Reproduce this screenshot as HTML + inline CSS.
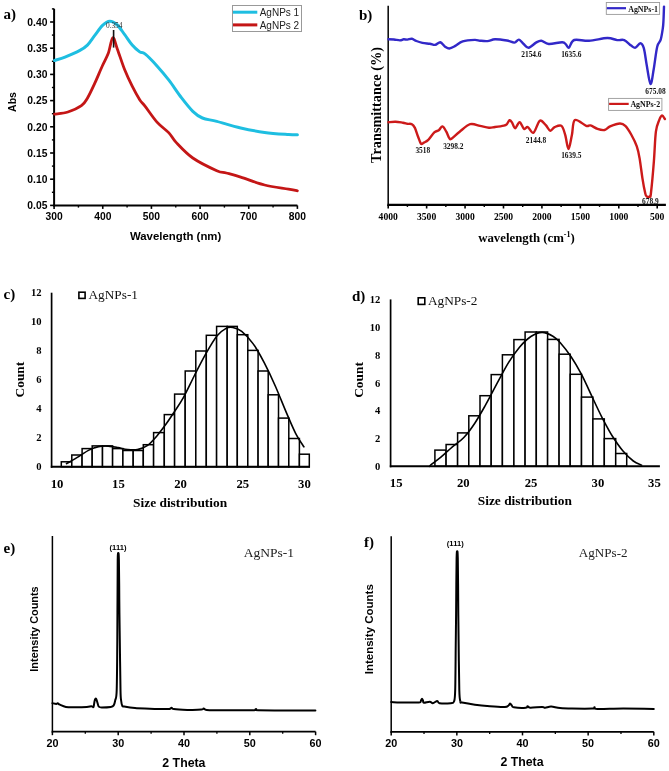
<!DOCTYPE html>
<html><head><meta charset="utf-8"><style>
html,body{margin:0;padding:0;background:#fff;}
svg{display:block;will-change:transform;}
</style></head><body>
<svg width="669" height="771" viewBox="0 0 669 771">
<rect x="0" y="0" width="669" height="771" fill="#fff"/>
<text x="3.6" y="18.6" font-family='"Liberation Serif", serif' font-size="15.00" font-weight="bold" text-anchor="start" fill="#000" >a)</text>
<line x1="54.10" y1="8.70" x2="54.10" y2="206.40" stroke="#000" stroke-width="2.00"/>
<line x1="53.10" y1="205.40" x2="297.40" y2="205.40" stroke="#000" stroke-width="2.00"/>
<line x1="50.10" y1="205.40" x2="54.10" y2="205.40" stroke="#000" stroke-width="1.60"/>
<text x="47.4" y="209.1" font-family='"Liberation Sans", sans-serif' font-size="10.30" font-weight="bold" text-anchor="end" fill="#000" >0.05</text>
<line x1="50.10" y1="179.20" x2="54.10" y2="179.20" stroke="#000" stroke-width="1.60"/>
<text x="47.4" y="182.9" font-family='"Liberation Sans", sans-serif' font-size="10.30" font-weight="bold" text-anchor="end" fill="#000" >0.10</text>
<line x1="50.10" y1="153.00" x2="54.10" y2="153.00" stroke="#000" stroke-width="1.60"/>
<text x="47.4" y="156.7" font-family='"Liberation Sans", sans-serif' font-size="10.30" font-weight="bold" text-anchor="end" fill="#000" >0.15</text>
<line x1="50.10" y1="126.80" x2="54.10" y2="126.80" stroke="#000" stroke-width="1.60"/>
<text x="47.4" y="130.5" font-family='"Liberation Sans", sans-serif' font-size="10.30" font-weight="bold" text-anchor="end" fill="#000" >0.20</text>
<line x1="50.10" y1="100.60" x2="54.10" y2="100.60" stroke="#000" stroke-width="1.60"/>
<text x="47.4" y="104.3" font-family='"Liberation Sans", sans-serif' font-size="10.30" font-weight="bold" text-anchor="end" fill="#000" >0.25</text>
<line x1="50.10" y1="74.40" x2="54.10" y2="74.40" stroke="#000" stroke-width="1.60"/>
<text x="47.4" y="78.1" font-family='"Liberation Sans", sans-serif' font-size="10.30" font-weight="bold" text-anchor="end" fill="#000" >0.30</text>
<line x1="50.10" y1="48.20" x2="54.10" y2="48.20" stroke="#000" stroke-width="1.60"/>
<text x="47.4" y="51.9" font-family='"Liberation Sans", sans-serif' font-size="10.30" font-weight="bold" text-anchor="end" fill="#000" >0.35</text>
<line x1="50.10" y1="22.00" x2="54.10" y2="22.00" stroke="#000" stroke-width="1.60"/>
<text x="47.4" y="25.7" font-family='"Liberation Sans", sans-serif' font-size="10.30" font-weight="bold" text-anchor="end" fill="#000" >0.40</text>
<line x1="51.90" y1="192.30" x2="54.10" y2="192.30" stroke="#000" stroke-width="1.40"/>
<line x1="51.90" y1="166.10" x2="54.10" y2="166.10" stroke="#000" stroke-width="1.40"/>
<line x1="51.90" y1="139.90" x2="54.10" y2="139.90" stroke="#000" stroke-width="1.40"/>
<line x1="51.90" y1="113.70" x2="54.10" y2="113.70" stroke="#000" stroke-width="1.40"/>
<line x1="51.90" y1="87.50" x2="54.10" y2="87.50" stroke="#000" stroke-width="1.40"/>
<line x1="51.90" y1="61.30" x2="54.10" y2="61.30" stroke="#000" stroke-width="1.40"/>
<line x1="51.90" y1="35.10" x2="54.10" y2="35.10" stroke="#000" stroke-width="1.40"/>
<line x1="51.90" y1="8.90" x2="54.10" y2="8.90" stroke="#000" stroke-width="1.40"/>
<line x1="54.10" y1="205.40" x2="54.10" y2="208.90" stroke="#000" stroke-width="1.60"/>
<text x="54.1" y="219.8" font-family='"Liberation Sans", sans-serif' font-size="10.30" font-weight="bold" text-anchor="middle" fill="#000" >300</text>
<line x1="102.76" y1="205.40" x2="102.76" y2="208.90" stroke="#000" stroke-width="1.60"/>
<text x="102.8" y="219.8" font-family='"Liberation Sans", sans-serif' font-size="10.30" font-weight="bold" text-anchor="middle" fill="#000" >400</text>
<line x1="151.42" y1="205.40" x2="151.42" y2="208.90" stroke="#000" stroke-width="1.60"/>
<text x="151.4" y="219.8" font-family='"Liberation Sans", sans-serif' font-size="10.30" font-weight="bold" text-anchor="middle" fill="#000" >500</text>
<line x1="200.08" y1="205.40" x2="200.08" y2="208.90" stroke="#000" stroke-width="1.60"/>
<text x="200.1" y="219.8" font-family='"Liberation Sans", sans-serif' font-size="10.30" font-weight="bold" text-anchor="middle" fill="#000" >600</text>
<line x1="248.74" y1="205.40" x2="248.74" y2="208.90" stroke="#000" stroke-width="1.60"/>
<text x="248.7" y="219.8" font-family='"Liberation Sans", sans-serif' font-size="10.30" font-weight="bold" text-anchor="middle" fill="#000" >700</text>
<line x1="297.40" y1="205.40" x2="297.40" y2="208.90" stroke="#000" stroke-width="1.60"/>
<text x="297.4" y="219.8" font-family='"Liberation Sans", sans-serif' font-size="10.30" font-weight="bold" text-anchor="middle" fill="#000" >800</text>
<line x1="78.43" y1="205.40" x2="78.43" y2="207.60" stroke="#000" stroke-width="1.40"/>
<line x1="127.09" y1="205.40" x2="127.09" y2="207.60" stroke="#000" stroke-width="1.40"/>
<line x1="175.75" y1="205.40" x2="175.75" y2="207.60" stroke="#000" stroke-width="1.40"/>
<line x1="224.41" y1="205.40" x2="224.41" y2="207.60" stroke="#000" stroke-width="1.40"/>
<line x1="273.07" y1="205.40" x2="273.07" y2="207.60" stroke="#000" stroke-width="1.40"/>
<text x="175.6" y="240.2" font-family='"Liberation Sans", sans-serif' font-size="11.40" font-weight="bold" text-anchor="middle" fill="#000" >Wavelength (nm)</text>
<text x="0" y="0" transform="translate(15.9,102.0) rotate(-90)" font-family='"Liberation Sans", sans-serif' font-size="10.50" font-weight="bold" text-anchor="middle" fill="#000">Abs</text>
<path d="M54.5,60.5 C56.2,59.9 60.8,58.8 65.0,57.1 C69.2,55.4 76.2,52.4 79.9,50.4 C83.6,48.4 84.9,47.6 87.4,45.1 C89.9,42.6 92.3,38.6 94.8,35.4 C97.3,32.2 99.8,28.1 102.3,25.7 C104.8,23.3 107.3,21.3 109.8,21.2 C112.3,21.1 114.8,22.8 117.3,25.0 C119.8,27.2 122.2,31.4 124.7,34.7 C127.2,38.1 129.7,42.2 132.2,45.1 C134.7,48.0 137.6,50.4 139.7,51.9 C141.8,53.4 142.1,51.6 145.0,53.9 C147.9,56.2 153.0,61.5 157.0,65.9 C161.0,70.3 164.9,75.0 168.9,80.2 C172.9,85.4 176.9,91.8 180.9,97.0 C184.9,102.2 189.2,107.8 192.8,111.3 C196.4,114.8 198.4,116.3 202.4,118.0 C206.4,119.7 210.4,119.7 216.8,121.4 C223.2,123.1 232.7,126.2 240.7,128.0 C248.7,129.8 256.6,131.3 264.6,132.4 C272.6,133.5 283.0,134.1 288.5,134.5 C294.0,134.9 295.9,134.8 297.4,134.8" fill="none" stroke="#1EBEE1" stroke-width="3.00" stroke-linejoin="round" stroke-linecap="round" />
<path d="M54.5,114.2 C56.7,113.8 63.4,113.4 67.9,112.0 C72.4,110.6 78.2,108.0 81.4,105.7 C84.7,103.4 85.2,102.0 87.4,98.2 C89.6,94.5 92.3,88.6 94.8,83.2 C97.3,77.8 100.0,71.0 102.3,66.0 C104.5,61.0 106.5,58.0 108.3,53.3 C110.0,48.6 111.3,38.4 112.8,37.7 C114.3,37.0 115.3,43.5 117.3,48.9 C119.3,54.2 122.2,63.6 124.7,69.8 C127.2,76.0 129.7,81.2 132.2,86.2 C134.7,91.2 137.6,96.4 139.7,99.7 C141.8,103.0 142.1,102.4 145.0,106.1 C147.9,109.8 153.0,117.6 157.0,122.1 C161.0,126.6 165.7,129.5 168.9,132.9 C172.1,136.3 172.1,138.2 176.1,142.4 C180.1,146.6 186.0,153.3 192.8,158.0 C199.6,162.7 211.2,168.2 216.8,170.7 C222.4,173.2 222.3,171.9 226.3,173.0 C230.3,174.1 234.3,175.1 240.7,177.1 C247.1,179.1 256.6,183.0 264.6,185.0 C272.6,187.0 283.0,188.1 288.5,189.1 C294.0,190.1 295.9,190.5 297.4,190.8" fill="none" stroke="#C41616" stroke-width="2.80" stroke-linejoin="round" stroke-linecap="round" />
<line x1="113.60" y1="30.00" x2="113.60" y2="47.60" stroke="#111" stroke-width="1.60"/>
<text x="114.2" y="27.9" font-family='"Liberation Serif", serif' font-size="7.40" font-weight="normal" text-anchor="middle" fill="#333" >0.354</text>
<rect x="232.5" y="5.5" width="69" height="26" fill="#fff" stroke="#999" stroke-width="1"/>
<line x1="233.00" y1="12.20" x2="257.30" y2="12.20" stroke="#1EBEE1" stroke-width="3.00"/>
<line x1="233.00" y1="24.90" x2="257.30" y2="24.90" stroke="#C41616" stroke-width="3.00"/>
<text x="259.7" y="15.9" font-family='"Liberation Sans", sans-serif' font-size="10.00" font-weight="normal" text-anchor="start" fill="#222" >AgNPs 1</text>
<text x="259.7" y="28.5" font-family='"Liberation Sans", sans-serif' font-size="10.00" font-weight="normal" text-anchor="start" fill="#222" >AgNPs 2</text>
<text x="359.0" y="19.5" font-family='"Liberation Serif", serif' font-size="15.00" font-weight="bold" text-anchor="start" fill="#000" >b)</text>
<line x1="388.20" y1="5.70" x2="388.20" y2="205.90" stroke="#111" stroke-width="1.60"/>
<line x1="387.40" y1="204.90" x2="665.90" y2="204.90" stroke="#000" stroke-width="2.20"/>
<line x1="388.20" y1="204.90" x2="388.20" y2="208.50" stroke="#000" stroke-width="1.60"/>
<text x="388.2" y="219.9" font-family='"Liberation Serif", serif' font-size="9.60" font-weight="bold" text-anchor="middle" fill="#000" >4000</text>
<line x1="426.63" y1="204.90" x2="426.63" y2="208.50" stroke="#000" stroke-width="1.60"/>
<text x="426.6" y="219.9" font-family='"Liberation Serif", serif' font-size="9.60" font-weight="bold" text-anchor="middle" fill="#000" >3500</text>
<line x1="465.06" y1="204.90" x2="465.06" y2="208.50" stroke="#000" stroke-width="1.60"/>
<text x="465.1" y="219.9" font-family='"Liberation Serif", serif' font-size="9.60" font-weight="bold" text-anchor="middle" fill="#000" >3000</text>
<line x1="503.49" y1="204.90" x2="503.49" y2="208.50" stroke="#000" stroke-width="1.60"/>
<text x="503.5" y="219.9" font-family='"Liberation Serif", serif' font-size="9.60" font-weight="bold" text-anchor="middle" fill="#000" >2500</text>
<line x1="541.92" y1="204.90" x2="541.92" y2="208.50" stroke="#000" stroke-width="1.60"/>
<text x="541.9" y="219.9" font-family='"Liberation Serif", serif' font-size="9.60" font-weight="bold" text-anchor="middle" fill="#000" >2000</text>
<line x1="580.35" y1="204.90" x2="580.35" y2="208.50" stroke="#000" stroke-width="1.60"/>
<text x="580.4" y="219.9" font-family='"Liberation Serif", serif' font-size="9.60" font-weight="bold" text-anchor="middle" fill="#000" >1500</text>
<line x1="618.78" y1="204.90" x2="618.78" y2="208.50" stroke="#000" stroke-width="1.60"/>
<text x="618.8" y="219.9" font-family='"Liberation Serif", serif' font-size="9.60" font-weight="bold" text-anchor="middle" fill="#000" >1000</text>
<line x1="657.21" y1="204.90" x2="657.21" y2="208.50" stroke="#000" stroke-width="1.60"/>
<text x="657.2" y="219.9" font-family='"Liberation Serif", serif' font-size="9.60" font-weight="bold" text-anchor="middle" fill="#000" >500</text>
<line x1="407.41" y1="204.90" x2="407.41" y2="206.90" stroke="#000" stroke-width="1.40"/>
<line x1="445.84" y1="204.90" x2="445.84" y2="206.90" stroke="#000" stroke-width="1.40"/>
<line x1="484.27" y1="204.90" x2="484.27" y2="206.90" stroke="#000" stroke-width="1.40"/>
<line x1="522.70" y1="204.90" x2="522.70" y2="206.90" stroke="#000" stroke-width="1.40"/>
<line x1="561.13" y1="204.90" x2="561.13" y2="206.90" stroke="#000" stroke-width="1.40"/>
<line x1="599.57" y1="204.90" x2="599.57" y2="206.90" stroke="#000" stroke-width="1.40"/>
<line x1="638.00" y1="204.90" x2="638.00" y2="206.90" stroke="#000" stroke-width="1.40"/>
<text x="526.5" y="241.5" font-family='"Liberation Serif", serif' font-size="12.80" font-weight="bold" text-anchor="middle" fill="#000" >wavelength (cm<tspan dy="-4.5" font-size="8">-1</tspan><tspan dy="4.5">)</tspan></text>
<text x="0" y="0" transform="translate(380.6,105.0) rotate(-90)" font-family='"Liberation Serif", serif' font-size="14.30" font-weight="bold" text-anchor="middle" fill="#000">Transmittance (%)</text>
<path d="M388.5,39.2 C389.4,39.2 392.1,39.3 394.0,39.5 C395.9,39.7 398.4,40.4 400.0,40.4 C401.6,40.4 402.5,39.4 403.7,39.3 C404.9,39.2 406.0,39.7 407.4,39.6 C408.8,39.5 410.4,38.6 411.9,38.8 C413.4,39.0 414.6,40.3 416.4,41.0 C418.1,41.7 420.2,42.4 422.4,42.9 C424.6,43.4 427.7,43.4 429.8,43.7 C431.9,44.0 433.4,45.1 435.1,44.9 C436.9,44.6 438.7,42.0 440.3,42.2 C441.9,42.5 443.3,45.4 444.8,46.4 C446.3,47.4 447.6,48.6 449.3,48.5 C451.1,48.4 453.1,47.1 455.3,45.9 C457.5,44.7 459.5,42.4 462.7,41.4 C465.9,40.4 471.8,40.0 474.7,39.9 C477.6,39.8 477.9,40.5 480.0,40.7 C482.1,40.9 485.0,41.3 487.5,41.1 C490.0,40.9 491.8,39.4 495.0,39.3 C498.2,39.2 503.7,40.0 506.9,40.5 C510.1,41.0 512.4,42.8 514.4,42.6 C516.4,42.5 517.4,39.4 518.9,39.6 C520.4,39.8 521.7,42.4 523.3,43.7 C524.9,45.1 526.5,47.9 528.6,47.7 C530.7,47.5 533.9,43.8 536.0,42.6 C538.1,41.4 539.2,40.5 541.3,40.7 C543.4,40.9 545.3,43.8 548.8,44.0 C552.3,44.2 559.4,42.1 562.2,42.2 C565.1,42.3 564.8,43.5 565.9,44.4 C567.0,45.3 567.5,48.4 568.9,47.7 C570.3,47.0 570.9,41.1 574.2,40.0 C577.6,38.9 583.5,41.1 589.0,40.8 C594.5,40.5 602.6,38.1 607.3,38.0 C612.0,37.9 614.4,39.8 617.2,40.1 C620.0,40.5 621.9,39.2 624.2,40.1 C626.5,41.0 629.3,44.3 631.2,45.6 C633.1,46.9 633.9,48.1 635.4,47.7 C636.9,47.3 638.9,43.1 640.3,43.2 C641.7,43.3 642.7,44.5 643.8,48.1 C644.9,51.7 645.6,59.0 646.7,65.0 C647.8,71.0 649.3,83.2 650.5,83.9 C651.7,84.6 652.6,75.4 653.7,69.2 C654.8,63.0 656.0,51.6 657.2,46.7 C658.4,41.8 659.8,42.8 660.7,39.7 C661.6,36.7 662.3,31.7 662.8,28.4 C663.3,25.1 663.3,23.6 663.5,20.0 C663.7,16.4 663.9,8.8 664.0,6.6" fill="none" stroke="#3228C8" stroke-width="2.40" stroke-linejoin="round" stroke-linecap="round" />
<path d="M388.5,122.3 C389.7,122.2 393.1,121.6 395.5,121.7 C397.9,121.8 400.9,122.4 402.9,122.7 C404.9,123.0 405.9,123.5 407.4,123.8 C408.9,124.0 410.6,123.5 411.9,124.2 C413.1,124.9 413.9,125.9 414.9,127.9 C415.9,129.9 416.9,133.6 417.9,136.2 C418.9,138.8 419.9,142.5 420.9,143.6 C421.9,144.7 422.7,143.2 423.9,142.6 C425.1,142.0 426.6,141.6 428.3,139.9 C430.0,138.2 432.6,134.0 434.3,132.4 C436.1,130.8 437.4,131.2 438.8,130.2 C440.2,129.2 441.2,126.2 442.5,126.4 C443.8,126.7 445.2,129.8 446.3,131.7 C447.4,133.6 448.4,136.9 449.3,138.1 C450.2,139.3 449.8,139.8 451.5,138.7 C453.2,137.6 456.6,134.1 459.7,131.7 C462.8,129.3 466.8,125.2 470.2,124.2 C473.6,123.2 476.9,125.3 480.0,125.9 C483.1,126.5 486.5,127.5 489.0,127.7 C491.5,127.9 492.5,127.3 495.0,127.0 C497.5,126.7 501.9,126.1 503.9,125.6 C505.9,125.1 505.9,125.0 506.9,124.1 C507.8,123.2 508.7,120.5 509.6,120.2 C510.5,120.0 511.2,121.3 512.1,122.6 C513.0,123.9 513.9,128.3 515.1,128.2 C516.4,128.1 518.1,122.1 519.6,122.2 C521.1,122.3 522.7,128.1 524.1,128.9 C525.5,129.7 526.2,126.5 527.8,127.1 C529.4,127.7 531.5,133.8 533.5,132.7 C535.5,131.6 537.8,122.0 539.8,120.7 C541.8,119.5 544.0,123.5 545.8,125.2 C547.5,126.9 548.8,130.4 550.3,130.7 C551.8,131.0 552.8,127.9 554.7,127.1 C556.6,126.3 559.8,124.6 561.5,125.9 C563.2,127.2 564.0,131.0 565.2,134.9 C566.4,138.8 567.4,149.1 568.5,149.1 C569.6,149.1 570.8,139.8 571.9,134.9 C573.0,130.1 572.5,121.5 574.9,120.0 C577.3,118.5 583.6,124.9 586.2,125.8 C588.8,126.7 588.6,124.9 590.5,125.4 C592.4,125.9 595.2,128.1 597.5,128.9 C599.8,129.7 602.4,130.4 604.5,130.0 C606.6,129.6 607.5,127.5 610.1,126.4 C612.7,125.3 617.4,123.5 620.0,123.5 C622.6,123.5 623.7,124.3 625.6,126.1 C627.5,127.9 629.3,131.1 631.2,134.5 C633.1,137.9 635.4,142.4 636.8,146.4 C638.2,150.4 638.7,153.1 639.6,158.4 C640.5,163.7 641.5,172.2 642.4,178.1 C643.3,183.9 644.6,190.5 645.3,193.5 C646.0,196.5 646.1,195.6 646.6,196.2 C647.1,196.8 647.6,197.2 648.1,197.2 C648.6,197.2 649.1,196.8 649.6,196.2 C650.1,195.6 650.2,199.3 650.9,193.5 C651.6,187.7 653.1,171.5 653.9,161.2 C654.7,150.9 655.0,138.6 655.9,131.7 C656.8,124.8 658.3,122.5 659.3,119.8 C660.3,117.1 661.2,115.6 662.1,115.5 C663.0,115.4 664.4,118.4 664.9,119.0" fill="none" stroke="#CC1A1A" stroke-width="2.40" stroke-linejoin="round" stroke-linecap="round" />
<text x="531.4" y="57.1" font-family='"Liberation Serif", serif' font-size="7.40" font-weight="bold" text-anchor="middle" fill="#111" >2154.6</text>
<text x="571.3" y="57.1" font-family='"Liberation Serif", serif' font-size="7.40" font-weight="bold" text-anchor="middle" fill="#111" >1635.6</text>
<text x="655.5" y="93.8" font-family='"Liberation Serif", serif' font-size="7.40" font-weight="bold" text-anchor="middle" fill="#111" >675.08</text>
<text x="422.8" y="153.3" font-family='"Liberation Serif", serif' font-size="7.40" font-weight="bold" text-anchor="middle" fill="#111" >3518</text>
<text x="453.3" y="149.2" font-family='"Liberation Serif", serif' font-size="7.40" font-weight="bold" text-anchor="middle" fill="#111" >3298.2</text>
<text x="536.0" y="142.7" font-family='"Liberation Serif", serif' font-size="7.40" font-weight="bold" text-anchor="middle" fill="#111" >2144.8</text>
<text x="571.3" y="158.1" font-family='"Liberation Serif", serif' font-size="7.40" font-weight="bold" text-anchor="middle" fill="#111" >1639.5</text>
<text x="650.4" y="203.9" font-family='"Liberation Serif", serif' font-size="7.40" font-weight="bold" text-anchor="middle" fill="#111" >678.9</text>
<rect x="606.3" y="2.5" width="53.3" height="11.9" fill="#fff" stroke="#999" stroke-width="0.9"/>
<line x1="606.80" y1="8.20" x2="626.00" y2="8.20" stroke="#3228C8" stroke-width="2.20"/>
<text x="628.2" y="11.7" font-family='"Liberation Serif", serif' font-size="7.90" font-weight="bold" text-anchor="start" fill="#111" >AgNPs-1</text>
<rect x="608.6" y="98.4" width="53.3" height="12" fill="#fff" stroke="#999" stroke-width="0.9"/>
<line x1="609.10" y1="103.90" x2="628.70" y2="103.90" stroke="#CC1A1A" stroke-width="2.20"/>
<text x="630.4" y="107.2" font-family='"Liberation Serif", serif' font-size="7.90" font-weight="bold" text-anchor="start" fill="#111" >AgNPs-2</text>
<text x="3.5" y="298.5" font-family='"Liberation Serif", serif' font-size="15.00" font-weight="bold" text-anchor="start" fill="#000" >c)</text>
<line x1="51.60" y1="292.70" x2="51.60" y2="467.80" stroke="#000" stroke-width="1.70"/>
<text x="41.6" y="470.4" font-family='"Liberation Serif", serif' font-size="10.60" font-weight="bold" text-anchor="end" fill="#000" >0</text>
<text x="41.6" y="441.3" font-family='"Liberation Serif", serif' font-size="10.60" font-weight="bold" text-anchor="end" fill="#000" >2</text>
<text x="41.6" y="412.2" font-family='"Liberation Serif", serif' font-size="10.60" font-weight="bold" text-anchor="end" fill="#000" >4</text>
<text x="41.6" y="383.1" font-family='"Liberation Serif", serif' font-size="10.60" font-weight="bold" text-anchor="end" fill="#000" >6</text>
<text x="41.6" y="354.0" font-family='"Liberation Serif", serif' font-size="10.60" font-weight="bold" text-anchor="end" fill="#000" >8</text>
<text x="41.6" y="324.9" font-family='"Liberation Serif", serif' font-size="10.60" font-weight="bold" text-anchor="end" fill="#000" >10</text>
<text x="41.6" y="295.8" font-family='"Liberation Serif", serif' font-size="10.60" font-weight="bold" text-anchor="end" fill="#000" >12</text>
<rect x="61.3" y="461.8" width="10.5" height="5.0" fill="#fff" stroke="#000" stroke-width="1.5"/>
<rect x="71.8" y="455.0" width="10.3" height="11.8" fill="#fff" stroke="#000" stroke-width="1.5"/>
<rect x="82.1" y="448.6" width="10.1" height="18.2" fill="#fff" stroke="#000" stroke-width="1.5"/>
<rect x="92.2" y="445.9" width="10.3" height="20.9" fill="#fff" stroke="#000" stroke-width="1.5"/>
<rect x="102.5" y="445.9" width="10.1" height="20.9" fill="#fff" stroke="#000" stroke-width="1.5"/>
<rect x="112.6" y="448.6" width="10.3" height="18.2" fill="#fff" stroke="#000" stroke-width="1.5"/>
<rect x="122.9" y="450.5" width="10.3" height="16.3" fill="#fff" stroke="#000" stroke-width="1.5"/>
<rect x="133.2" y="450.5" width="10.1" height="16.3" fill="#fff" stroke="#000" stroke-width="1.5"/>
<rect x="143.3" y="444.7" width="10.3" height="22.1" fill="#fff" stroke="#000" stroke-width="1.5"/>
<rect x="153.6" y="432.6" width="10.7" height="34.2" fill="#fff" stroke="#000" stroke-width="1.5"/>
<rect x="164.3" y="414.6" width="10.3" height="52.2" fill="#fff" stroke="#000" stroke-width="1.5"/>
<rect x="174.6" y="394.1" width="10.6" height="72.7" fill="#fff" stroke="#000" stroke-width="1.5"/>
<rect x="185.2" y="371.0" width="10.6" height="95.8" fill="#fff" stroke="#000" stroke-width="1.5"/>
<rect x="195.8" y="351.0" width="10.5" height="115.8" fill="#fff" stroke="#000" stroke-width="1.5"/>
<rect x="206.3" y="335.3" width="10.3" height="131.5" fill="#fff" stroke="#000" stroke-width="1.5"/>
<rect x="216.6" y="326.4" width="10.6" height="140.4" fill="#fff" stroke="#000" stroke-width="1.5"/>
<rect x="227.2" y="326.4" width="10.1" height="140.4" fill="#fff" stroke="#000" stroke-width="1.5"/>
<rect x="237.3" y="334.7" width="10.5" height="132.1" fill="#fff" stroke="#000" stroke-width="1.5"/>
<rect x="247.8" y="350.4" width="10.3" height="116.4" fill="#fff" stroke="#000" stroke-width="1.5"/>
<rect x="258.1" y="371.0" width="10.1" height="95.8" fill="#fff" stroke="#000" stroke-width="1.5"/>
<rect x="268.2" y="394.8" width="10.3" height="72.0" fill="#fff" stroke="#000" stroke-width="1.5"/>
<rect x="278.5" y="418.1" width="10.3" height="48.7" fill="#fff" stroke="#000" stroke-width="1.5"/>
<rect x="288.8" y="438.5" width="10.6" height="28.3" fill="#fff" stroke="#000" stroke-width="1.5"/>
<rect x="299.4" y="454.2" width="9.9" height="12.6" fill="#fff" stroke="#000" stroke-width="1.5"/>
<line x1="50.80" y1="466.80" x2="310.00" y2="466.80" stroke="#000" stroke-width="2.00"/>
<path d="M66.5,463.7 C68.6,462.5 75.4,458.7 79.1,456.4 C82.8,454.1 85.7,451.7 88.9,450.1 C92.2,448.5 95.4,447.3 98.6,446.6 C101.8,445.9 105.1,445.9 108.3,446.1 C111.5,446.3 114.8,447.0 118.0,447.6 C121.2,448.2 124.5,449.3 127.7,449.6 C130.9,449.9 134.2,450.2 137.4,449.6 C140.7,449.0 143.9,448.0 147.2,445.7 C150.4,443.4 153.7,439.6 156.9,435.9 C160.1,432.2 163.7,427.3 166.6,423.3 C169.5,419.3 171.6,416.0 174.4,411.7 C177.2,407.4 180.1,403.5 183.5,397.4 C186.9,391.3 191.0,382.3 194.7,375.0 C198.4,367.7 202.2,360.2 205.9,353.7 C209.6,347.2 213.7,340.0 217.1,335.8 C220.5,331.6 223.5,329.8 226.1,328.4 C228.7,327.0 230.2,327.0 232.8,327.5 C235.4,328.0 238.3,328.6 241.7,331.3 C245.1,334.0 249.2,338.4 253.0,343.6 C256.8,348.8 260.5,355.6 264.2,362.7 C267.9,369.8 271.7,377.8 275.4,386.2 C279.1,394.6 283.2,405.2 286.6,413.1 C290.0,421.0 292.7,427.7 295.6,433.3 C298.5,438.9 302.5,444.6 303.9,446.8" fill="none" stroke="#000" stroke-width="1.60" stroke-linejoin="round" stroke-linecap="round" />
<text x="57.0" y="487.6" font-family='"Liberation Serif", serif' font-size="12.70" font-weight="bold" text-anchor="middle" fill="#000" >10</text>
<text x="118.4" y="487.6" font-family='"Liberation Serif", serif' font-size="12.70" font-weight="bold" text-anchor="middle" fill="#000" >15</text>
<text x="180.6" y="487.6" font-family='"Liberation Serif", serif' font-size="12.70" font-weight="bold" text-anchor="middle" fill="#000" >20</text>
<text x="242.8" y="487.6" font-family='"Liberation Serif", serif' font-size="12.70" font-weight="bold" text-anchor="middle" fill="#000" >25</text>
<text x="304.4" y="487.6" font-family='"Liberation Serif", serif' font-size="12.70" font-weight="bold" text-anchor="middle" fill="#000" >30</text>
<text x="180.1" y="506.8" font-family='"Liberation Serif", serif' font-size="13.40" font-weight="bold" text-anchor="middle" fill="#000" >Size distribution</text>
<text x="0" y="0" transform="translate(24.2,379.6) rotate(-90)" font-family='"Liberation Serif", serif' font-size="13.40" font-weight="bold" text-anchor="middle" fill="#000">Count</text>
<rect x="78.9" y="292.2" width="6.2" height="6.2" fill="#fff" stroke="#000" stroke-width="1.6"/>
<text x="88.5" y="299.4" font-family='"Liberation Serif", serif' font-size="13.30" font-weight="normal" text-anchor="start" fill="#111" >AgNPs-1</text>
<text x="352.0" y="301.0" font-family='"Liberation Serif", serif' font-size="15.00" font-weight="bold" text-anchor="start" fill="#000" >d)</text>
<line x1="390.60" y1="299.40" x2="390.60" y2="467.30" stroke="#000" stroke-width="1.70"/>
<text x="380.3" y="469.9" font-family='"Liberation Serif", serif' font-size="10.60" font-weight="bold" text-anchor="end" fill="#000" >0</text>
<text x="380.3" y="442.1" font-family='"Liberation Serif", serif' font-size="10.60" font-weight="bold" text-anchor="end" fill="#000" >2</text>
<text x="380.3" y="414.3" font-family='"Liberation Serif", serif' font-size="10.60" font-weight="bold" text-anchor="end" fill="#000" >4</text>
<text x="380.3" y="386.5" font-family='"Liberation Serif", serif' font-size="10.60" font-weight="bold" text-anchor="end" fill="#000" >6</text>
<text x="380.3" y="358.7" font-family='"Liberation Serif", serif' font-size="10.60" font-weight="bold" text-anchor="end" fill="#000" >8</text>
<text x="380.3" y="330.9" font-family='"Liberation Serif", serif' font-size="10.60" font-weight="bold" text-anchor="end" fill="#000" >10</text>
<text x="380.3" y="303.1" font-family='"Liberation Serif", serif' font-size="10.60" font-weight="bold" text-anchor="end" fill="#000" >12</text>
<rect x="434.9" y="450.1" width="11.2" height="16.2" fill="#fff" stroke="#000" stroke-width="1.5"/>
<rect x="446.1" y="444.5" width="11.5" height="21.8" fill="#fff" stroke="#000" stroke-width="1.5"/>
<rect x="457.6" y="432.9" width="11.2" height="33.4" fill="#fff" stroke="#000" stroke-width="1.5"/>
<rect x="468.8" y="415.8" width="11.2" height="50.5" fill="#fff" stroke="#000" stroke-width="1.5"/>
<rect x="480.0" y="395.7" width="11.2" height="70.6" fill="#fff" stroke="#000" stroke-width="1.5"/>
<rect x="491.2" y="374.6" width="11.2" height="91.7" fill="#fff" stroke="#000" stroke-width="1.5"/>
<rect x="502.4" y="354.8" width="11.5" height="111.5" fill="#fff" stroke="#000" stroke-width="1.5"/>
<rect x="513.9" y="339.6" width="11.2" height="126.7" fill="#fff" stroke="#000" stroke-width="1.5"/>
<rect x="525.1" y="332.0" width="11.2" height="134.3" fill="#fff" stroke="#000" stroke-width="1.5"/>
<rect x="536.3" y="332.0" width="11.3" height="134.3" fill="#fff" stroke="#000" stroke-width="1.5"/>
<rect x="547.6" y="339.4" width="11.5" height="126.9" fill="#fff" stroke="#000" stroke-width="1.5"/>
<rect x="559.1" y="354.2" width="11.1" height="112.1" fill="#fff" stroke="#000" stroke-width="1.5"/>
<rect x="570.2" y="374.3" width="11.3" height="92.0" fill="#fff" stroke="#000" stroke-width="1.5"/>
<rect x="581.5" y="397.1" width="11.4" height="69.2" fill="#fff" stroke="#000" stroke-width="1.5"/>
<rect x="592.9" y="418.9" width="11.4" height="47.4" fill="#fff" stroke="#000" stroke-width="1.5"/>
<rect x="604.3" y="438.6" width="11.4" height="27.7" fill="#fff" stroke="#000" stroke-width="1.5"/>
<rect x="615.7" y="453.5" width="11.0" height="12.8" fill="#fff" stroke="#000" stroke-width="1.5"/>
<line x1="389.80" y1="466.30" x2="659.90" y2="466.30" stroke="#000" stroke-width="2.00"/>
<path d="M429.7,466.3 C429.9,466.0 429.2,466.3 431.1,464.7 C433.0,463.1 437.6,459.9 441.2,456.9 C444.8,453.9 448.7,450.0 452.4,446.8 C456.1,443.6 459.9,441.7 463.6,437.8 C467.3,433.9 471.1,428.8 474.8,423.2 C478.5,417.6 482.2,410.9 486.0,404.2 C489.8,397.5 493.6,389.8 497.3,382.9 C501.1,376.0 504.8,368.7 508.5,362.7 C512.2,356.7 516.0,351.4 519.7,347.0 C523.4,342.6 527.2,338.9 530.9,336.5 C534.6,334.1 538.4,332.4 542.1,332.4 C545.8,332.4 550.2,334.7 553.3,336.5 C556.4,338.3 557.7,339.8 560.7,343.2 C563.7,346.6 567.6,351.5 571.1,356.7 C574.6,361.9 578.0,367.7 581.5,374.3 C585.0,380.9 588.3,388.9 591.8,396.1 C595.2,403.4 598.7,411.1 602.2,417.8 C605.7,424.5 609.1,431.0 612.6,436.5 C616.1,442.0 619.5,446.9 623.0,451.0 C626.5,455.1 630.2,458.6 633.3,461.0 C636.4,463.4 640.2,464.4 641.6,465.1" fill="none" stroke="#000" stroke-width="1.60" stroke-linejoin="round" stroke-linecap="round" />
<text x="396.2" y="487.0" font-family='"Liberation Serif", serif' font-size="12.70" font-weight="bold" text-anchor="middle" fill="#000" >15</text>
<text x="463.3" y="487.0" font-family='"Liberation Serif", serif' font-size="12.70" font-weight="bold" text-anchor="middle" fill="#000" >20</text>
<text x="531.0" y="487.0" font-family='"Liberation Serif", serif' font-size="12.70" font-weight="bold" text-anchor="middle" fill="#000" >25</text>
<text x="597.9" y="487.0" font-family='"Liberation Serif", serif' font-size="12.70" font-weight="bold" text-anchor="middle" fill="#000" >30</text>
<text x="654.4" y="487.0" font-family='"Liberation Serif", serif' font-size="12.70" font-weight="bold" text-anchor="middle" fill="#000" >35</text>
<text x="524.8" y="505.2" font-family='"Liberation Serif", serif' font-size="13.40" font-weight="bold" text-anchor="middle" fill="#000" >Size distribution</text>
<text x="0" y="0" transform="translate(362.5,380.0) rotate(-90)" font-family='"Liberation Serif", serif' font-size="13.40" font-weight="bold" text-anchor="middle" fill="#000">Count</text>
<rect x="418.2" y="297.8" width="6.6" height="6.6" fill="#fff" stroke="#000" stroke-width="1.6"/>
<text x="427.9" y="305.1" font-family='"Liberation Serif", serif' font-size="13.30" font-weight="normal" text-anchor="start" fill="#111" >AgNPs-2</text>
<text x="3.5" y="553.0" font-family='"Liberation Serif", serif' font-size="15.00" font-weight="bold" text-anchor="start" fill="#000" >e)</text>
<line x1="52.40" y1="536.00" x2="52.40" y2="732.60" stroke="#000" stroke-width="1.50"/>
<line x1="51.70" y1="731.60" x2="315.60" y2="731.60" stroke="#000" stroke-width="1.80"/>
<line x1="52.40" y1="731.60" x2="52.40" y2="735.20" stroke="#000" stroke-width="1.50"/>
<text x="52.4" y="747.0" font-family='"Liberation Sans", sans-serif' font-size="10.80" font-weight="bold" text-anchor="middle" fill="#000" >20</text>
<line x1="118.20" y1="731.60" x2="118.20" y2="735.20" stroke="#000" stroke-width="1.50"/>
<text x="118.2" y="747.0" font-family='"Liberation Sans", sans-serif' font-size="10.80" font-weight="bold" text-anchor="middle" fill="#000" >30</text>
<line x1="184.00" y1="731.60" x2="184.00" y2="735.20" stroke="#000" stroke-width="1.50"/>
<text x="184.0" y="747.0" font-family='"Liberation Sans", sans-serif' font-size="10.80" font-weight="bold" text-anchor="middle" fill="#000" >40</text>
<line x1="249.80" y1="731.60" x2="249.80" y2="735.20" stroke="#000" stroke-width="1.50"/>
<text x="249.8" y="747.0" font-family='"Liberation Sans", sans-serif' font-size="10.80" font-weight="bold" text-anchor="middle" fill="#000" >50</text>
<line x1="315.60" y1="731.60" x2="315.60" y2="735.20" stroke="#000" stroke-width="1.50"/>
<text x="315.6" y="747.0" font-family='"Liberation Sans", sans-serif' font-size="10.80" font-weight="bold" text-anchor="middle" fill="#000" >60</text>
<line x1="85.30" y1="731.60" x2="85.30" y2="733.80" stroke="#000" stroke-width="1.30"/>
<line x1="151.10" y1="731.60" x2="151.10" y2="733.80" stroke="#000" stroke-width="1.30"/>
<line x1="216.90" y1="731.60" x2="216.90" y2="733.80" stroke="#000" stroke-width="1.30"/>
<line x1="282.70" y1="731.60" x2="282.70" y2="733.80" stroke="#000" stroke-width="1.30"/>
<text x="183.9" y="767.4" font-family='"Liberation Sans", sans-serif' font-size="12.30" font-weight="bold" text-anchor="middle" fill="#000" >2 Theta</text>
<text x="0" y="0" transform="translate(37.5,629.0) rotate(-90)" font-family='"Liberation Sans", sans-serif' font-size="10.90" font-weight="bold" text-anchor="middle" fill="#000">Intensity Counts</text>
<path d="M52.4,703.2 C53.0,703.3 55.3,703.9 56.2,703.9 C57.1,703.9 57.1,703.1 57.7,703.2 C58.3,703.3 58.5,704.1 59.9,704.7 C61.3,705.3 63.4,706.5 65.9,706.9 C68.4,707.3 71.3,707.2 74.8,707.2 C78.3,707.2 84.0,707.1 86.8,706.9 C89.5,706.7 90.2,706.2 91.3,706.2 C92.4,706.2 93.0,707.8 93.5,706.9 C94.0,706.0 94.2,702.3 94.6,700.9 C95.0,699.5 95.6,698.3 96.1,698.7 C96.6,699.1 97.1,701.9 97.6,703.2 C98.0,704.5 98.1,705.9 98.8,706.6 C99.5,707.3 99.7,707.4 101.7,707.4 C103.7,707.4 108.7,707.2 110.7,706.9 C112.7,706.6 113.0,706.5 113.7,705.4 C114.5,704.3 114.7,703.0 115.2,700.4 C115.7,697.8 116.4,700.1 116.7,690.0 C117.0,679.9 117.2,655.0 117.3,640.0 C117.4,625.0 117.4,613.3 117.5,600.0 C117.6,586.7 117.6,567.8 117.7,560.0 C117.8,552.2 118.1,553.0 118.3,553.0 C118.5,553.0 118.7,552.2 118.9,560.0 C119.1,567.8 119.2,586.7 119.3,600.0 C119.4,613.3 119.6,625.0 119.8,640.0 C120.0,655.0 120.3,679.8 120.5,690.0 C120.7,700.2 120.9,698.4 121.2,701.0 C121.5,703.6 121.7,704.7 122.2,705.6 C122.7,706.5 122.1,706.2 124.2,706.6 C126.3,707.0 130.7,707.8 135.0,708.1 C139.3,708.5 144.9,708.5 149.9,708.7 C154.9,708.9 161.5,709.1 164.8,709.1 C168.1,709.1 168.4,709.1 169.5,708.9 C170.6,708.7 170.9,707.7 171.6,707.7 C172.3,707.7 171.2,708.7 173.8,709.1 C176.4,709.5 182.7,709.8 187.3,709.9 C191.9,710.0 198.8,709.9 201.5,709.6 C204.2,709.4 202.8,708.4 203.7,708.4 C204.6,708.4 204.0,709.6 206.7,709.9 C209.4,710.2 212.8,710.1 220.0,710.2 C227.2,710.3 244.2,710.3 250.0,710.3 C255.8,710.3 253.5,710.4 254.5,710.2 C255.5,710.0 255.5,708.9 256.1,708.9 C256.7,708.9 252.3,710.0 258.0,710.3 C263.6,710.5 280.4,710.4 290.0,710.4 C299.6,710.4 311.2,710.4 315.4,710.4" fill="none" stroke="#000" stroke-width="2.00" stroke-linejoin="round" stroke-linecap="round" />
<text x="118.0" y="549.6" font-family='"Liberation Sans", sans-serif' font-size="7.60" font-weight="bold" text-anchor="middle" fill="#000" >(111)</text>
<text x="268.8" y="556.8" font-family='"Liberation Serif", serif' font-size="13.50" font-weight="normal" text-anchor="middle" fill="#222" >AgNPs-1</text>
<text x="364.0" y="547.0" font-family='"Liberation Serif", serif' font-size="15.00" font-weight="bold" text-anchor="start" fill="#000" >f)</text>
<line x1="391.20" y1="536.30" x2="391.20" y2="732.80" stroke="#000" stroke-width="1.50"/>
<line x1="390.50" y1="731.80" x2="653.80" y2="731.80" stroke="#000" stroke-width="1.80"/>
<line x1="391.20" y1="731.80" x2="391.20" y2="735.40" stroke="#000" stroke-width="1.50"/>
<text x="391.2" y="747.0" font-family='"Liberation Sans", sans-serif' font-size="10.80" font-weight="bold" text-anchor="middle" fill="#000" >20</text>
<line x1="456.85" y1="731.80" x2="456.85" y2="735.40" stroke="#000" stroke-width="1.50"/>
<text x="456.9" y="747.0" font-family='"Liberation Sans", sans-serif' font-size="10.80" font-weight="bold" text-anchor="middle" fill="#000" >30</text>
<line x1="522.50" y1="731.80" x2="522.50" y2="735.40" stroke="#000" stroke-width="1.50"/>
<text x="522.5" y="747.0" font-family='"Liberation Sans", sans-serif' font-size="10.80" font-weight="bold" text-anchor="middle" fill="#000" >40</text>
<line x1="588.15" y1="731.80" x2="588.15" y2="735.40" stroke="#000" stroke-width="1.50"/>
<text x="588.1" y="747.0" font-family='"Liberation Sans", sans-serif' font-size="10.80" font-weight="bold" text-anchor="middle" fill="#000" >50</text>
<line x1="653.80" y1="731.80" x2="653.80" y2="735.40" stroke="#000" stroke-width="1.50"/>
<text x="653.8" y="747.0" font-family='"Liberation Sans", sans-serif' font-size="10.80" font-weight="bold" text-anchor="middle" fill="#000" >60</text>
<line x1="424.02" y1="731.80" x2="424.02" y2="734.00" stroke="#000" stroke-width="1.30"/>
<line x1="489.68" y1="731.80" x2="489.68" y2="734.00" stroke="#000" stroke-width="1.30"/>
<line x1="555.33" y1="731.80" x2="555.33" y2="734.00" stroke="#000" stroke-width="1.30"/>
<line x1="620.98" y1="731.80" x2="620.98" y2="734.00" stroke="#000" stroke-width="1.30"/>
<text x="522.0" y="766.4" font-family='"Liberation Sans", sans-serif' font-size="12.30" font-weight="bold" text-anchor="middle" fill="#000" >2 Theta</text>
<text x="0" y="0" transform="translate(372.8,629.2) rotate(-90)" font-family='"Liberation Sans", sans-serif' font-size="11.50" font-weight="bold" text-anchor="middle" fill="#000">Intensity Counts</text>
<path d="M391.2,702.1 C392.6,702.1 396.0,702.4 399.9,702.4 C403.8,702.4 411.4,702.4 414.8,702.4 C418.2,702.4 419.1,702.7 420.1,702.4 C421.1,702.1 420.7,701.1 421.0,700.5 C421.3,699.9 421.7,698.7 422.0,698.7 C422.3,698.7 422.7,699.8 423.0,700.5 C423.3,701.2 422.7,702.5 423.8,702.7 C424.9,702.9 428.3,701.6 429.8,701.7 C431.3,701.8 431.6,703.3 432.8,703.2 C434.1,703.1 436.2,700.9 437.3,700.9 C438.4,700.9 437.3,702.8 439.5,703.2 C441.7,703.6 448.3,703.5 450.7,703.2 C453.1,702.9 453.2,703.7 454.0,701.5 C454.8,699.3 454.9,700.2 455.2,690.0 C455.5,679.8 455.6,655.0 455.8,640.0 C456.0,625.0 456.1,613.7 456.2,600.0 C456.3,586.3 456.4,566.1 456.6,558.0 C456.8,549.9 457.0,551.5 457.2,551.5 C457.4,551.5 457.6,549.9 457.8,558.0 C458.0,566.1 458.1,586.3 458.2,600.0 C458.3,613.7 458.4,625.0 458.6,640.0 C458.8,655.0 459.0,679.8 459.3,690.0 C459.6,700.2 459.9,699.4 460.4,701.5 C460.8,703.6 459.6,702.1 462.0,702.6 C464.4,703.1 470.2,704.1 474.9,704.7 C479.5,705.3 484.9,705.8 489.9,706.2 C494.9,706.6 501.7,707.0 504.8,706.9 C507.9,706.8 507.6,706.0 508.5,705.5 C509.4,705.0 509.6,703.6 510.1,703.6 C510.7,703.6 511.2,704.9 511.8,705.5 C512.4,706.1 511.5,706.8 513.8,707.2 C516.1,707.6 523.5,707.9 525.8,707.7 C528.1,707.5 526.9,706.2 527.6,706.2 C528.4,706.2 527.9,707.6 530.3,707.7 C532.7,707.8 539.7,706.9 542.2,706.9 C544.7,706.9 543.7,707.8 545.2,707.7 C546.7,707.7 548.7,706.5 551.2,706.6 C553.7,706.7 556.5,707.8 560.0,708.1 C563.5,708.4 566.6,708.5 572.0,708.6 C577.4,708.7 588.8,708.8 592.5,708.6 C596.2,708.4 593.6,707.2 594.5,707.3 C595.4,707.4 592.8,708.8 597.6,709.0 C602.4,709.2 613.8,708.6 623.2,708.6 C632.6,708.6 648.7,708.9 653.8,709.0" fill="none" stroke="#000" stroke-width="2.00" stroke-linejoin="round" stroke-linecap="round" />
<text x="455.3" y="546.3" font-family='"Liberation Sans", sans-serif' font-size="7.60" font-weight="bold" text-anchor="middle" fill="#000" >(111)</text>
<text x="603.2" y="556.7" font-family='"Liberation Serif", serif' font-size="13.10" font-weight="normal" text-anchor="middle" fill="#222" >AgNPs-2</text>
</svg>
</body></html>
